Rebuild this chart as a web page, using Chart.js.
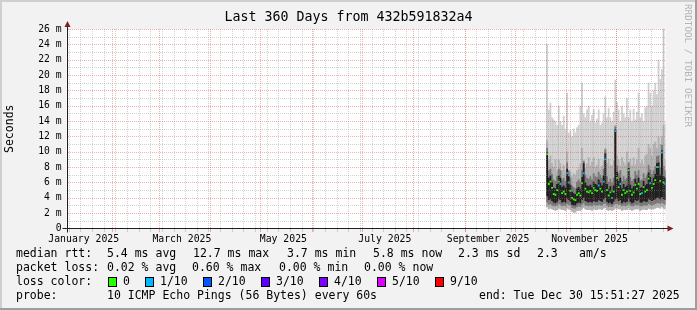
<!DOCTYPE html>
<html>
<head>
<meta charset="utf-8">
<script src="https://cdn.jsdelivr.net/npm/chart.js@4.4.1/dist/chart.umd.min.js"></script>
<style>
  html, body { margin: 0; padding: 0; background: #f2f2f2; }
  #wrap { width: 697px; height: 310px; }
</style>
</head>
<body>
<div id="wrap"><canvas id="smoke" width="697" height="310"></canvas></div>
<script>
// time span of the graph (360 days ending Dec 30 2025 15:51:27)
const startTime = Date.UTC(2025, 0, 4, 15, 51, 27);
const endTime = Date.UTC(2025, 11, 30, 15, 51, 27);

// one column per day, only the last ~10 weeks have data
const days = [
  '10-20','10-21','10-22','10-23','10-24','10-25','10-26','10-27','10-28','10-29','10-30','10-31',
  '11-01','11-02','11-03','11-04','11-05','11-06','11-07','11-08','11-09','11-10',
  '11-11','11-12','11-13','11-14','11-15','11-16','11-17','11-18','11-19','11-20',
  '11-21','11-22','11-23','11-24','11-25','11-26','11-27','11-28','11-29','11-30',
  '12-01','12-02','12-03','12-04','12-05','12-06','12-07','12-08','12-09','12-10',
  '12-11','12-12','12-13','12-14','12-15','12-16','12-17','12-18','12-19','12-20',
  '12-21','12-22','12-23','12-24','12-25','12-26','12-27','12-28','12-29','12-30'
];

// values in ms
const median = [
  9.7,5.8,6.1,5.3,4.5,4.4,5.0,6.1,5.8,4.6,
  4.8,4.5,7.2,6.0,4.9,4.0,3.8,3.7,4.4,4.6,
  4.3,5.9,7.2,5.2,4.8,4.7,4.9,4.6,5.3,5.0,
  4.9,5.6,5.2,4.8,6.1,9.0,5.0,4.3,4.7,4.0,
  4.8,12.7,6.6,5.4,5.8,4.4,5.0,4.6,4.8,7.6,
  4.9,4.4,4.7,5.7,5.2,5.8,4.5,4.6,5.4,4.8,
  5.0,6.5,5.9,5.3,5.8,6.3,8.0,8.0,6.2,9.9,
  6.0,5.8
];
const lossIdx = [
  0,0,0,0,0,0,0,0,1,0,
  0,0,1,1,0,0,0,0,0,0,
  0,0,1,0,0,0,0,0,0,0,
  0,1,0,0,1,1,0,0,0,1,
  0,1,0,0,1,0,0,0,0,0,
  0,0,0,0,0,0,0,1,0,0,
  0,0,1,0,0,0,0,1,0,1,
  0,1
];
const smokeMax = [
  24,15.5,16.4,14.5,14.2,14,13.5,16,14,13.5,
  14.7,13,17.7,12.5,12.8,12,13,12.5,13.2,13.5,
  16,19,15,14.5,15.5,16,14,14.8,15.6,13.8,
  14.3,15.5,13.5,13.8,15,17.2,14.5,15.7,14.5,14,
  15.2,19.4,16.5,15.5,14,16,15,14.5,17,14.5,
  15.5,14,15.6,14.2,15.2,17.7,14.5,15,14,15.8,
  16,19,17.7,16,18,19,17.5,22,19.5,20.8,
  26,13.8
];
const smokeUpper = [
  11.5,9,9.5,8.5,8,9,7.6,9,8.5,7.6,
  8.3,7.6,10,7.2,7.4,6.8,7.2,7,7.6,7.8,
  8.5,10.5,9,8,8.5,9.3,8.2,8.7,9.3,8,
  8.3,9.1,7.8,8.2,8.9,10.5,8.5,9.1,8.3,8.2,
  8.9,13.5,9.5,9,8.2,9.3,8.7,8.3,10,8.5,
  9.1,8.2,9.3,8.3,9,10.5,8.5,8.9,8.3,9.5,
  9.7,11,10.5,9.5,11,11.3,10.5,12,11,12,
  13.5,9
];
const smokeInner = [
  10.5,7.6,7.8,7.1,6.4,6.2,6.8,7.8,7.6,6.4,
  6.6,6.2,8.6,7.6,6.6,5.6,5.4,5.2,6.1,6.4,
  6.1,7.6,8.8,7,6.6,6.5,6.8,6.4,7.2,6.8,
  6.7,7.4,7,6.6,7.8,10.3,6.8,6.1,6.5,6,
  6.6,13.3,8.2,7.2,7.6,6.2,6.8,6.4,6.6,8.6,
  6.7,6.2,6.5,7.5,7,7.6,6.3,6.4,7.2,6.6,
  7,8.3,7.7,7.1,7.6,8.1,9.4,9.5,8,10.9,
  8.1,7.6
];
const coreTop = [
  9.9,6.6,6.9,6.1,5.3,5.2,5.8,6.9,6.6,5.4,
  5.6,5.3,7.8,6.8,5.7,4.8,4.6,4.5,5.2,5.4,
  5.1,6.7,8.5,6,5.6,5.5,5.7,5.4,6.1,5.8,
  5.7,6.4,6,5.6,6.9,9.8,5.8,5.1,5.5,4.8,
  5.6,12.9,7.4,6.2,6.6,5.2,5.8,5.4,5.6,7.9,
  5.7,5.2,5.5,6.5,6,6.6,5.3,5.4,6.2,5.6,
  5.8,7.3,6.7,6.1,6.6,7.1,8.5,8.6,7,10.2,
  6.8,6.6
];
const coreBottom = [
  4.2,3.7,3.8,3.6,3.4,3.3,3.5,3.8,3.7,3.4,
  3.5,3.4,3.9,3.7,3.5,3.1,3.0,3.0,3.3,3.4,
  3.3,3.7,4.0,3.6,3.5,3.4,3.5,3.4,3.6,3.5,
  3.5,3.7,3.6,3.5,3.8,4.0,3.5,3.3,3.4,3.2,
  3.5,3.8,3.9,3.6,3.7,3.3,3.5,3.4,3.5,3.9,
  3.5,3.3,3.4,3.7,3.6,3.7,3.4,3.4,3.6,3.5,
  3.5,3.8,3.7,3.6,3.7,3.8,4.0,4.0,3.8,4.1,
  3.8,3.7
];
const innerMin = [
  3.4,3.1,3.2,3.0,2.9,2.9,3.0,3.2,3.1,2.9,
  3.0,2.9,3.2,3.1,3.0,2.7,2.6,2.6,2.8,2.9,
  2.8,3.1,3.3,3.0,3.0,2.9,3.0,2.9,3.1,3.0,
  3.0,3.1,3.0,3.0,3.2,3.3,3.0,2.8,2.9,2.8,
  3.0,3.2,3.2,3.1,3.1,2.9,3.0,2.9,3.0,3.2,
  3.0,2.9,2.9,3.1,3.0,3.1,2.9,2.9,3.0,3.0,
  3.0,3.2,3.1,3.0,3.1,3.2,3.3,3.3,3.2,3.4,
  3.2,3.1
];
const smokeMin = [
  2.8,2.5,2.6,2.5,2.4,2.3,2.4,2.6,2.5,2.4,
  2.4,2.3,2.6,2.5,2.4,2.2,2.1,2.1,2.3,2.3,
  2.3,2.5,2.7,2.5,2.4,2.4,2.4,2.3,2.5,2.4,
  2.4,2.5,2.5,2.4,2.6,2.7,2.4,2.3,2.4,2.3,
  2.4,2.6,2.6,2.5,2.5,2.3,2.4,2.4,2.4,2.6,
  2.4,2.3,2.4,2.5,2.5,2.5,2.3,2.4,2.5,2.4,
  2.4,2.6,2.5,2.5,2.5,2.6,2.7,2.7,2.6,2.8,
  2.6,2.5
];

// axis
const yLabelValues = [0,2,4,6,8,10,12,14,16,18,20,22,24,26];
const yMinorValues = [1,3,5,7,9,11,13,15,17,19,21,23,25];
const monthStarts = ['02-01','03-01','04-01','05-01','06-01','07-01','08-01','09-01','10-01','11-01','12-01'];
const monthLabelDays = ['01-15','03-15','05-15','07-15','09-15','11-15'];
const monthLabels = ['January 2025','March 2025','May 2025','July 2025','September 2025','November 2025'];
const firstMonday = '01-06';

// legend
const rttStats = ['5.4 ms avg', '12.7 ms max', '3.7 ms min', '5.8 ms now', '2.3 ms sd', '2.3', 'am/s'];
const lossStats = ['0.02 % avg', '0.60 % max', '0.00 % min', '0.00 % now'];
const lossLabels = ['0', '1/10', '2/10', '3/10', '4/10', '5/10', '9/10'];
const lossColors = ['#26ff00', '#00b8ff', '#0059ff', '#5e00ff', '#7e00ff', '#dd00ff', '#ff0000'];
const probeText = '10 ICMP Echo Pings (56 Bytes) every 60s';
const endText = 'end: Tue Dec 30 15:51:27 2025';
const titleText = 'Last 360 Days from 432b591832a4';

const MONO = '"DejaVu Sans Mono", monospace';

function dateOf(md, hour) {
  return Date.UTC(2025, +md.slice(0, 2) - 1, +md.slice(3), hour || 0);
}
const dayX = days.map(d => dateOf(d, 12));
const band = (lo, hi) => dayX.map((x, i) => ({ x: x, y: [lo[i], hi[i]] }));

const weekLines = [];
for (let t = dateOf(firstMonday); t < endTime; t += 7 * 86400000) weekLines.push(t);
const monthLines = monthStarts.map(m => dateOf(m));
const labelTicks = monthLabelDays.map((m, i) => ({ value: dateOf(m), text: monthLabels[i] }));

const minorGrid = 'rgba(143,143,143,0.4)';
const majorGrid = 'rgba(222,70,70,0.42)';

// dotted rrd-style grid, 1px on / 1px off
function vDots(ctx, x, y0, y1) {
  for (let y = y0; y <= y1; y += 2) ctx.fillRect(x, y, 1, 1);
}
function hDots(ctx, y, x0, x1) {
  for (let x = x0; x <= x1; x += 2) ctx.fillRect(x, y, 1, 1);
}

const rrdLook = {
  id: 'rrdLook',
  beforeDraw(chart) {
    const ctx = chart.ctx, a = chart.chartArea;
    ctx.save();
    ctx.fillStyle = '#f2f2f2';
    ctx.fillRect(0, 0, chart.width, chart.height);
    ctx.fillStyle = '#cfcfcf';
    ctx.fillRect(0, 0, chart.width, 2);
    ctx.fillRect(0, 0, 2, chart.height);
    ctx.fillStyle = '#9e9e9e';
    ctx.fillRect(0, chart.height - 2, chart.width, 2);
    ctx.fillRect(chart.width - 2, 0, 2, chart.height);
    ctx.fillStyle = '#ffffff';
    ctx.fillRect(a.left, a.top, a.right - a.left, a.bottom - a.top);
    ctx.restore();
  },
  afterDatasetsDraw(chart) {
    const ctx = chart.ctx, a = chart.chartArea;
    const xs = chart.scales.x, ys = chart.scales.y;
    const L = Math.round(a.left) + 1, R = Math.round(a.right) - 1;
    const T = Math.round(a.top), B = Math.round(a.bottom) - 1;
    ctx.save();
    ctx.fillStyle = minorGrid;
    for (const t of weekLines) {
      const px = Math.round(xs.getPixelForValue(t));
      vDots(ctx, px, T, B);
      ctx.fillRect(px, B + 1, 1, 3);
    }
    for (const v of yMinorValues) hDots(ctx, Math.round(ys.getPixelForValue(v)), L, R);
    ctx.fillStyle = majorGrid;
    for (const t of monthLines) {
      const px = Math.round(xs.getPixelForValue(t));
      vDots(ctx, px, T, B);
      ctx.fillRect(px, B + 1, 1, 3);
    }
    for (const v of yLabelValues) if (v > 0) hDots(ctx, Math.round(ys.getPixelForValue(v)), L, R);
    ctx.restore();
  },
  afterDraw(chart) {
    const ctx = chart.ctx, a = chart.chartArea;
    ctx.save();
    // axes with arrows
    const yb = Math.round(a.bottom) - 0.5;
    const xl = Math.round(a.left) + 0.5;
    ctx.strokeStyle = '#1f1f1f';
    ctx.lineWidth = 1;
    ctx.beginPath();
    ctx.moveTo(a.left - 4, yb); ctx.lineTo(a.right + 4, yb);
    ctx.moveTo(xl, a.bottom + 4); ctx.lineTo(xl, a.top - 4);
    ctx.stroke();
    ctx.fillStyle = '#801f1f';
    ctx.beginPath();
    ctx.moveTo(a.right + 2, yb - 3); ctx.lineTo(a.right + 8, yb); ctx.lineTo(a.right + 2, yb + 3);
    ctx.closePath(); ctx.fill();
    ctx.beginPath();
    ctx.moveTo(xl - 3, a.top - 2); ctx.lineTo(xl, a.top - 8); ctx.lineTo(xl + 3, a.top - 2);
    ctx.closePath(); ctx.fill();

    // title
    ctx.fillStyle = '#000';
    ctx.textBaseline = 'middle';
    ctx.textAlign = 'center';
    ctx.font = '13.3px ' + MONO;
    ctx.fillText(titleText, chart.width / 2, 18);

    // legend lines
    ctx.textAlign = 'left';
    ctx.font = '11.5px ' + MONO;
    const rttX = [107, 193, 287, 373, 458, 537, 579];
    ctx.fillText('median rtt:', 16, 254);
    rttStats.forEach((s, i) => ctx.fillText(s, rttX[i], 254));
    const lossX = [107, 192, 279, 364];
    ctx.fillText('packet loss:', 16, 268);
    lossStats.forEach((s, i) => ctx.fillText(s, lossX[i], 268));
    ctx.fillText('loss color:', 16, 282);
    const boxX = [108, 145, 203, 261, 319, 377, 435];
    lossLabels.forEach((s, i) => {
      ctx.fillStyle = lossColors[i];
      ctx.fillRect(boxX[i], 277, 9, 10);
      ctx.strokeStyle = '#000';
      ctx.strokeRect(boxX[i] + 0.5, 277.5, 8, 9);
      ctx.fillStyle = '#000';
      ctx.fillText(s, boxX[i] + 15, 282);
    });
    ctx.fillText('probe:', 16, 296);
    ctx.fillText(probeText, 107, 296);
    ctx.fillText(endText, 479, 296);

    // watermark
    ctx.translate(687, 4);
    ctx.rotate(Math.PI / 2);
    ctx.fillStyle = '#b4b4b4';
    ctx.font = '9.3px ' + MONO;
    ctx.fillText('RRDTOOL / TOBI OETIKER', 0, 0);
    ctx.restore();
  }
};

const barBase = { type: 'bar', borderWidth: 0, barPercentage: 1.1, categoryPercentage: 1, grouped: false };

new Chart(document.getElementById('smoke'), {
  type: 'bar',
  data: {
    datasets: [
      Object.assign({}, barBase, { label: 'smoke', data: band(smokeMin, smokeMax), backgroundColor: '#d0d0d0', order: 5 }),
      Object.assign({}, barBase, { label: 'smoke2', data: band(smokeMin, smokeUpper), backgroundColor: '#b0b0b0', order: 4 }),
      Object.assign({}, barBase, { label: 'smoke3', data: band(innerMin, smokeInner), backgroundColor: '#777777', order: 3 }),
      Object.assign({}, barBase, { label: 'core', data: band(coreBottom, coreTop), backgroundColor: '#1e1e1e', order: 2 }),
      {
        type: 'line',
        label: 'median rtt',
        data: dayX.map((x, i) => ({ x: x, y: median[i] })),
        showLine: false,
        pointStyle: 'rect',
        pointRadius: 1.3,
        pointBorderWidth: 0,
        pointBackgroundColor: c => lossColors[lossIdx[c.dataIndex] || 0],
        order: 1
      }
    ]
  },
  options: {
    responsive: false,
    animation: false,
    events: [],
    layout: { padding: { top: 29, right: 31.5, left: 0, bottom: 0 } },
    plugins: { legend: { display: false }, tooltip: { enabled: false }, title: { display: false } },
    scales: {
      x: {
        type: 'linear',
        offset: false,
        bounds: 'data',
        min: startTime,
        max: endTime,
        afterFit(s) { s.height = 81.5; },
        afterBuildTicks(s) { s.ticks = labelTicks.map(t => ({ value: t.value, text: t.text })); },
        grid: { display: false, drawTicks: false, offset: false },
        border: { display: false },
        ticks: {
          autoSkip: false,
          maxRotation: 0,
          padding: 5,
          color: '#000',
          font: { family: MONO, size: 9.8 },
          callback: (v, i, ticks) => (ticks[i] && ticks[i].text) || ''
        }
      },
      y: {
        min: 0,
        max: 26,
        afterFit(s) { s.width = 66.5; },
        afterBuildTicks(s) { s.ticks = yLabelValues.map(v => ({ value: v })); },
        grid: { display: false, drawTicks: false },
        border: { display: false },
        ticks: {
          autoSkip: false,
          padding: 5,
          color: '#000',
          font: { family: MONO, size: 9.7 },
          callback: v => v === 0 ? '0' : v + ' m'
        },
        title: {
          display: true,
          text: 'Seconds',
          color: '#000',
          font: { family: MONO, size: 11.5 },
          padding: { top: 3, bottom: 0 }
        }
      }
    }
  },
  plugins: [rrdLook]
});
</script>
</body>
</html>
